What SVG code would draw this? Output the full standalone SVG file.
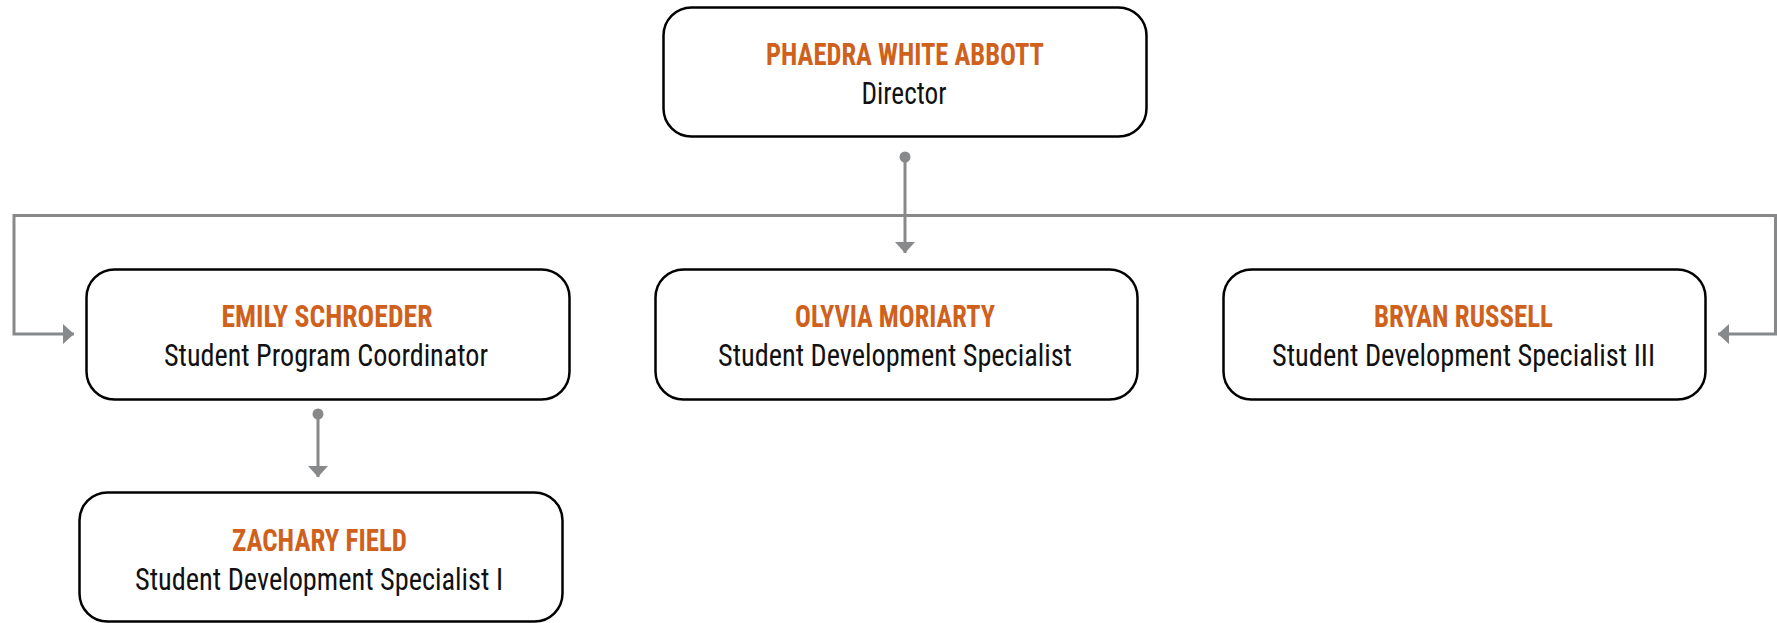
<svg xmlns="http://www.w3.org/2000/svg" width="1777" height="623" viewBox="0 0 1777 623">
  <style>
    .box { fill: #ffffff; stroke: #000000; stroke-width: 2.5; }
    .name { font-family: "Liberation Sans Narrow", "Roboto Condensed", "DejaVu Sans Condensed", "Liberation Sans", sans-serif; font-weight: bold; font-size: 31px; fill: #d0611c; text-anchor: middle; }
    .title { font-family: "Liberation Sans Narrow", "Roboto Condensed", "DejaVu Sans Condensed", "Liberation Sans", sans-serif; font-size: 31px; fill: #111111; text-anchor: middle; }
    .conn { fill: none; stroke: #88898b; stroke-width: 3; }
    .dot { fill: #88898b; }
  </style>
  <defs>
    <marker id="arrow" viewBox="0 0 11 20" refX="11" refY="10" markerWidth="11" markerHeight="20" markerUnits="userSpaceOnUse" orient="auto">
      <path d="M0,0 L11,10 L0,20 Z" fill="#88898b"/>
    </marker>
  </defs>

  <g id="connectors">
    <circle class="dot" cx="905" cy="157" r="5.5"/>
    <path class="conn" d="M905,157 V253" marker-end="url(#arrow)"/>
    <path class="conn" d="M905,215.5 H14 V334 H74" marker-end="url(#arrow)"/>
    <path class="conn" d="M905,215.5 H1775.5 V334 H1718" marker-end="url(#arrow)"/>
    <circle class="dot" cx="318" cy="414" r="5.5"/>
    <path class="conn" d="M318,414 V477" marker-end="url(#arrow)"/>
  </g>

  <g id="node-phaedra">
    <rect class="box" x="663.5" y="7.5" width="483" height="129" rx="28" ry="28"/>
    <text class="name" x="905" y="65" textLength="278" lengthAdjust="spacingAndGlyphs">PHAEDRA WHITE ABBOTT</text>
    <text class="title" x="904" y="104" textLength="85" lengthAdjust="spacingAndGlyphs">Director</text>
  </g>

  <g id="node-emily">
    <rect class="box" x="86.5" y="269.5" width="483" height="130" rx="28" ry="28"/>
    <text class="name" x="327" y="327" textLength="211" lengthAdjust="spacingAndGlyphs">EMILY SCHROEDER</text>
    <text class="title" x="326" y="366" textLength="324" lengthAdjust="spacingAndGlyphs">Student Program Coordinator</text>
  </g>

  <g id="node-olyvia">
    <rect class="box" x="655.5" y="269.5" width="482" height="130" rx="28" ry="28"/>
    <text class="name" x="895" y="327" textLength="200" lengthAdjust="spacingAndGlyphs">OLYVIA MORIARTY</text>
    <text class="title" x="895" y="366" textLength="354" lengthAdjust="spacingAndGlyphs">Student Development Specialist</text>
  </g>

  <g id="node-bryan">
    <rect class="box" x="1223.5" y="269.5" width="482" height="130" rx="28" ry="28"/>
    <text class="name" x="1463.5" y="327" textLength="179" lengthAdjust="spacingAndGlyphs">BRYAN RUSSELL</text>
    <text class="title" x="1463.5" y="366" textLength="383" lengthAdjust="spacingAndGlyphs">Student Development Specialist III</text>
  </g>

  <g id="node-zachary">
    <rect class="box" x="79.5" y="492.5" width="483" height="129" rx="28" ry="28"/>
    <text class="name" x="319.5" y="551" textLength="175" lengthAdjust="spacingAndGlyphs">ZACHARY FIELD</text>
    <text class="title" x="319" y="590" textLength="368" lengthAdjust="spacingAndGlyphs">Student Development Specialist I</text>
  </g>
</svg>
